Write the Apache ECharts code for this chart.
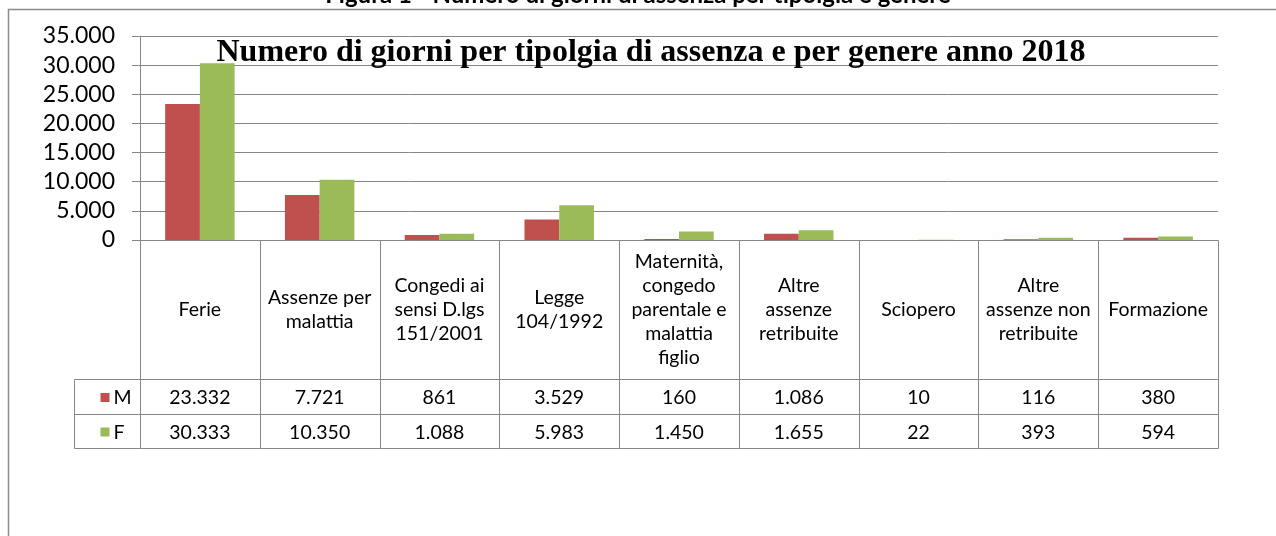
<!DOCTYPE html>
<html>
<head>
<meta charset="utf-8">
<script src="https://cdn.jsdelivr.net/npm/echarts@6/dist/echarts.min.js"></script>
<style>
html,body{margin:0;padding:0;background:#fff;}
#chart{width:1276px;height:536px;}
</style>
</head>
<body>
<div id="chart"></div>
<script>
// ---- data ----
var categories = [
  'Ferie',
  'Assenze per\nmalattia',
  'Congedi ai\nsensi D.lgs\n151/2001',
  'Legge\n104/1992',
  'Maternità,\ncongedo\nparentale e\nmalattia\nfiglio',
  'Altre\nassenze\nretribuite',
  'Sciopero',
  'Altre\nassenze non\nretribuite',
  'Formazione'
];
var seriesNames = ['M', 'F'];
var valuesM = [23332, 7721, 861, 3529, 160, 1086, 10, 116, 380];
var valuesF = [30333, 10350, 1088, 5983, 1450, 1655, 22, 393, 594];
var yTicks = [0, 5000, 10000, 15000, 20000, 25000, 30000, 35000];
var chartTitle = 'Numero di giorni per tipolgia di assenza e per genere anno 2018';
var caption = 'Figura 1 - Numero di giorni di assenza per tipolgia e genere';

// ---- style ----
var colorM = '#C0504D';
var colorF = '#9BBB59';
var lineColor = '#868686';
var uiFont = 'Lato';
var HEADER_H = 139, ROW_H = 34.5, LEGEND_W = 66;

function fmt(v) {
  return String(v).replace(/\B(?=(\d{3})+(?!\d))/g, '.');
}
function px(v) { return Math.round(v) + 0.5; }

var chart = echarts.init(document.getElementById('chart'));

function renderTable(params, api) {
  var idx = api.value(0);
  var c = api.coord([idx, 0]);
  var bw = api.size([1, 0])[0];
  var x0 = px(c[0] - bw / 2), x1 = px(c[0] + bw / 2);
  var y0 = px(c[1]);
  var y1 = px(c[1] + HEADER_H);
  var y2 = px(c[1] + HEADER_H + ROW_H);
  var y3 = px(c[1] + HEADER_H + 2 * ROW_H);
  var ls = {stroke: lineColor, lineWidth: 1};
  var children = [
    {type: 'line', shape: {x1: x0, y1: y0, x2: x0, y2: y3}, style: ls},
    {type: 'line', shape: {x1: x1, y1: y0, x2: x1, y2: y3}, style: ls},
    {type: 'line', shape: {x1: x0, y1: y1, x2: x1, y2: y1}, style: ls},
    {type: 'line', shape: {x1: x0, y1: y2, x2: x1, y2: y2}, style: ls},
    {type: 'line', shape: {x1: x0, y1: y3, x2: x1, y2: y3}, style: ls},
    {type: 'text', style: {text: categories[idx], x: c[0], y: (y0 + y1) / 2 + 0,
      align: 'center', verticalAlign: 'middle', fontSize: 19.5, lineHeight: 24,
      fontFamily: uiFont, fill: '#000'}},
    {type: 'text', style: {text: fmt(api.value(1)), x: c[0], y: (y1 + y2) / 2 + 1,
      align: 'center', verticalAlign: 'middle', fontSize: 19.5, fontFamily: uiFont, fill: '#000'}},
    {type: 'text', style: {text: fmt(api.value(2)), x: c[0], y: (y2 + y3) / 2 + 1,
      align: 'center', verticalAlign: 'middle', fontSize: 19.5, fontFamily: uiFont, fill: '#000'}}
  ];
  if (idx === 0) {
    var lx = px(c[0] - bw / 2 - LEGEND_W);
    children.push(
      {type: 'line', shape: {x1: lx, y1: y1, x2: x0, y2: y1}, style: ls},
      {type: 'line', shape: {x1: lx, y1: y2, x2: x0, y2: y2}, style: ls},
      {type: 'line', shape: {x1: lx, y1: y3, x2: x0, y2: y3}, style: ls},
      {type: 'line', shape: {x1: lx, y1: y1, x2: lx, y2: y3}, style: ls},
      {type: 'rect', shape: {x: lx + 26, y: (y1 + y2) / 2 - 4, width: 9, height: 9}, style: {fill: colorM}},
      {type: 'rect', shape: {x: lx + 26, y: (y2 + y3) / 2 - 4, width: 9, height: 9}, style: {fill: colorF}},
      {type: 'text', style: {text: seriesNames[0], x: lx + 39, y: (y1 + y2) / 2 + 1,
        align: 'left', verticalAlign: 'middle', fontSize: 19.5, fontFamily: uiFont, fill: '#000'}},
      {type: 'text', style: {text: seriesNames[1], x: lx + 39, y: (y2 + y3) / 2 + 1,
        align: 'left', verticalAlign: 'middle', fontSize: 19.5, fontFamily: uiFont, fill: '#000'}}
    );
  }
  return {type: 'group', children: children};
}

var tableData = categories.map(function (c, i) { return [i, valuesM[i], valuesF[i]]; });

chart.setOption({
  backgroundColor: '#fff',
  animation: false,
  title: {
    text: chartTitle,
    left: 646, textAlign: 'center', top: 32,
    textStyle: {fontFamily: 'Liberation Serif', fontWeight: 'bold', fontSize: 32, color: '#000'}
  },
  graphic: [
    {type: 'rect', shape: {x: 8.5, y: 9.5, width: 1400, height: 700},
      style: {fill: 'none', stroke: '#8c8c8c', lineWidth: 1.5}, z: -1},
    {type: 'text', left: 'center', top: -17,
      style: {text: caption, fontFamily: uiFont, fontWeight: 'bold', fontSize: 24, fill: '#000'}}
  ],
  grid: {left: 140, right: 58, top: 36, bottom: 296},
  xAxis: {
    type: 'category',
    data: categories,
    axisLine: {show: true, lineStyle: {color: lineColor, width: 1}},
    axisTick: {show: false},
    axisLabel: {show: false},
    splitLine: {show: false}
  },
  yAxis: {
    type: 'value',
    min: yTicks[0], max: yTicks[yTicks.length - 1], interval: yTicks[1] - yTicks[0],
    axisLine: {show: true, lineStyle: {color: lineColor, width: 1}},
    axisTick: {show: true, length: 8, lineStyle: {color: lineColor}},
    axisLabel: {margin: 25, fontFamily: uiFont, fontSize: 23, color: '#000',
      formatter: function (v) { return fmt(v); }},
    splitLine: {show: true, lineStyle: {color: lineColor, width: 1}}
  },
  series: [
    {name: seriesNames[0], type: 'bar', data: valuesM, itemStyle: {color: colorM},
      barGap: '0%', barCategoryGap: '42%'},
    {name: seriesNames[1], type: 'bar', data: valuesF, itemStyle: {color: colorF},
      barGap: '0%', barCategoryGap: '42%'},
    {type: 'custom', data: tableData, renderItem: renderTable, clip: false, silent: true,
      encode: {x: 0, y: 1}}
  ]
});
</script>
</body>
</html>
